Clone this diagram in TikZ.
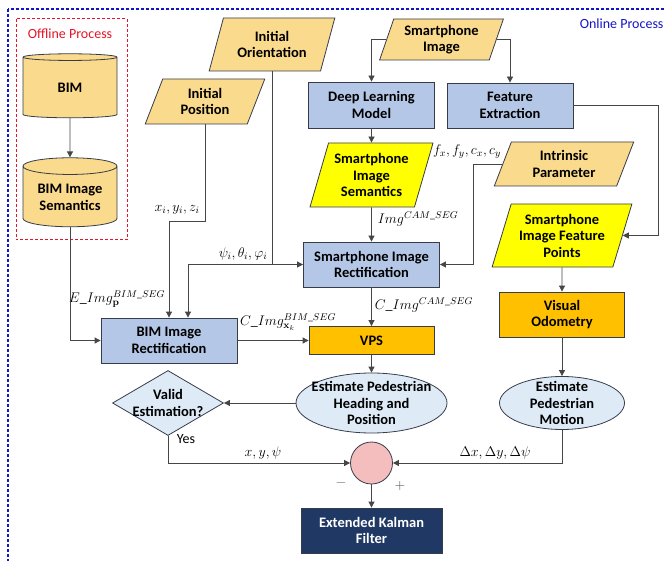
\documentclass[tikz,border=0pt]{standalone}
\usepackage{fix-cm}
\usepackage{amsmath, amssymb}
\usepackage[no-math]{fontspec}
\setmainfont{Carlito}
\usetikzlibrary{shapes.geometric, arrows.meta}

\definecolor{sand}{RGB}{250,218,140}
\definecolor{boxblue}{RGB}{180,199,231}
\definecolor{yel}{RGB}{255,255,0}
\definecolor{orng}{RGB}{255,192,0}
\definecolor{paleblue}{RGB}{222,235,247}
\definecolor{pinkc}{RGB}{245,190,190}
\definecolor{navy}{RGB}{31,56,100}
\definecolor{bordc}{RGB}{55,60,75}
\definecolor{linec}{RGB}{70,70,70}
\definecolor{offred}{RGB}{230,20,40}
\definecolor{onblue}{RGB}{20,20,200}

\begin{document}
\begin{tikzpicture}[x=1pt,y=-1pt,
    every node/.style={font=\fontsize{14.5}{16.5}\selectfont\bfseries, align=center},
    box/.style={rectangle, draw=bordc, line width=0.8pt, inner sep=2pt},
    datain/.style={trapezium, trapezium left angle=70, trapezium right angle=110,
      trapezium stretches=true, draw=bordc, line width=0.8pt, inner sep=1pt},
    db/.style={cylinder, shape border rotate=90, aspect=0.25, draw=bordc, fill=sand,
      line width=0.8pt, minimum width=94pt, inner sep=1pt},
    est/.style={ellipse, draw=bordc, fill=paleblue, line width=0.8pt, inner sep=-12pt},
    lab/.style={font=\fontsize{14}{16}\selectfont},
    arr/.style={-{Triangle[length=6pt,width=6pt]}, draw=linec, line width=0.8pt}]
			\useasboundingbox (0,0) rectangle (666,561);
			% frames
			\draw[onblue, line width=1.2pt, dash pattern=on 3pt off 2pt] (8,9) rectangle (680,575);
			\draw[offred, line width=1pt, dash pattern=on 3pt off 2pt] (16,19) rectangle (127,240);
			\node[text=offred, font=\fontsize{14}{16}\selectfont] (offl) at (70,34) {Offline Process};
			\node[text=onblue, font=\fontsize{14}{16}\selectfont, anchor=east] (onl) at (667,24) {Online Process};
			% offline databases
			\node[db, minimum height=64pt] (bim) at (70,88) {BIM};
			\node[db, minimum height=69pt] (bis) at (70,197.5) {BIM Image\\Semantics};
			% inputs
			\node[datain, fill=sand, minimum width=126pt, minimum height=53pt] (io) at (272,44.5) {Initial\\Orientation};
			\node[datain, fill=sand, minimum width=120pt, minimum height=45pt] (ip) at (205,101.5) {Initial\\Position};
			\node[datain, fill=sand, minimum width=125pt, minimum height=41pt] (si) at (441.5,39.5) {Smartphone\\Image};
			\node[datain, fill=sand, minimum width=140pt, minimum height=44pt] (ipar) at (564,164) {Intrinsic\\Parameter};
			\node[datain, fill=yel, minimum width=123pt, minimum height=64pt] (sis) at (371.5,175) {Smartphone\\Image\\Semantics};
			\node[datain, fill=yel, minimum width=140pt, minimum height=63pt] (sifp) at (562,235.5) {Smartphone\\Image Feature\\Points};
			% processes
			\node[box, fill=boxblue, minimum width=126pt, minimum height=46pt] (dl) at (371.5,105) {Deep Learning\\Model};
			\node[box, fill=boxblue, minimum width=126pt, minimum height=45pt] (fe) at (510,105.5) {Feature\\Extraction};
			\node[box, fill=boxblue, minimum width=136pt, minimum height=45pt] (sir) at (371.5,264.5) {Smartphone Image\\Rectification};
			\node[box, fill=boxblue, minimum width=136pt, minimum height=45pt] (bir) at (169,340.5) {BIM Image\\Rectification};
			\node[box, fill=orng, minimum width=125pt, minimum height=28pt] (vps) at (371.5,340.5) {VPS};
			\node[box, fill=orng, minimum width=125pt, minimum height=45pt] (vo) at (562,314.5) {Visual\\Odometry};
			\node[est, minimum width=151pt, minimum height=60pt] (ephp) at (371.5,403) {Estimate Pedestrian\\Heading and\\Position};
			\node[est, minimum width=125pt, minimum height=53pt] (epm) at (562,403) {Estimate\\Pedestrian\\Motion};
			\node[diamond, draw=bordc, fill=paleblue, line width=0.8pt, aspect=1.7, inner sep=-5pt,
			  minimum width=111pt, minimum height=65pt] (valid) at (168,403) {Valid\\Estimation?};
			\node[circle, draw=bordc, fill=pinkc, line width=0.8pt, minimum size=42pt, inner sep=0pt] (sum) at (371.5,463) {};
			\node[box, fill=navy, text=white, minimum width=141pt, minimum height=45pt] (ekf) at (371.5,530.5) {Extended Kalman\\Filter};
			% labels
			\node[lab] (lxyz) at (177,210) {$x_i, y_i, z_i$};
			\node[lab] (lang) at (243,254) {$\psi_i, \theta_i, \varphi_i$};
			\node[lab] (lE) at (117,299) {$E\_Img_{\mathbf{p}}^{BIM\_SEG}$};
			\node[lab] (lCb) at (288,322) {$C\_Img_{\mathbf{x}_k}^{BIM\_SEG}$};
			\node[lab] (lCc) at (424,305) {$C\_Img^{CAM\_SEG}$};
			\node[lab] (lImg) at (418,219) {$Img^{CAM\_SEG}$};
			\node[lab] (lf) at (467,152) {$f_x, f_y, c_x, c_y$};
			\node[lab] (lxy) at (263,453) {$x, y, \psi$};
			\node[lab] (ld) at (495,453) {$\Delta x, \Delta y, \Delta\psi$};
			\node[font=\fontsize{14}{16}\selectfont] (yes) at (186,439) {Yes};
			\node[lab, text=black!60] (minus) at (341,483) {$-$};
			\node[lab, text=black!70] (plus) at (400,486) {$+$};
			% connectors
			\draw[arr] (bim) -- (bis);
			\draw[arr] (si.west) -| (dl.north);
			\draw[arr] (si.east) -| (fe.north);
			\draw[arr] (dl) -- (sis);
			\draw[arr] (sis) -- (sir);
			\draw[arr] (fe.east) -- ++(85,0) |- (sifp.east);
			\draw[arr] (ipar.west) -- ++(-29,0) |- (sir.east);
			\draw[arr] (ip.south) -- ++(0,97) -| (bir.north);
			\coordinate (ioj) at (io.south |- sir.west);
			\draw[arr] (io.south) -- (ioj) -- (sir.west);
			\draw[arr] (ioj) -| ([xshift=19pt]bir.north);
			\draw[arr] (bis.south) |- (bir.west);
			\draw[arr] (bir) -- (vps);
			\draw[arr] (sir) -- (vps);
			\draw[arr] (vps) -- (ephp);
			\draw[arr] (ephp) -- (valid);
			\draw[arr] (valid.south) |- (sum.west);
			\draw[arr] (sifp) -- (vo);
			\draw[arr] (vo) -- (epm);
			\draw[arr] (epm.south) |- (sum.east);
			\draw[arr] (sum) -- (ekf);
\end{tikzpicture}
\end{document}
